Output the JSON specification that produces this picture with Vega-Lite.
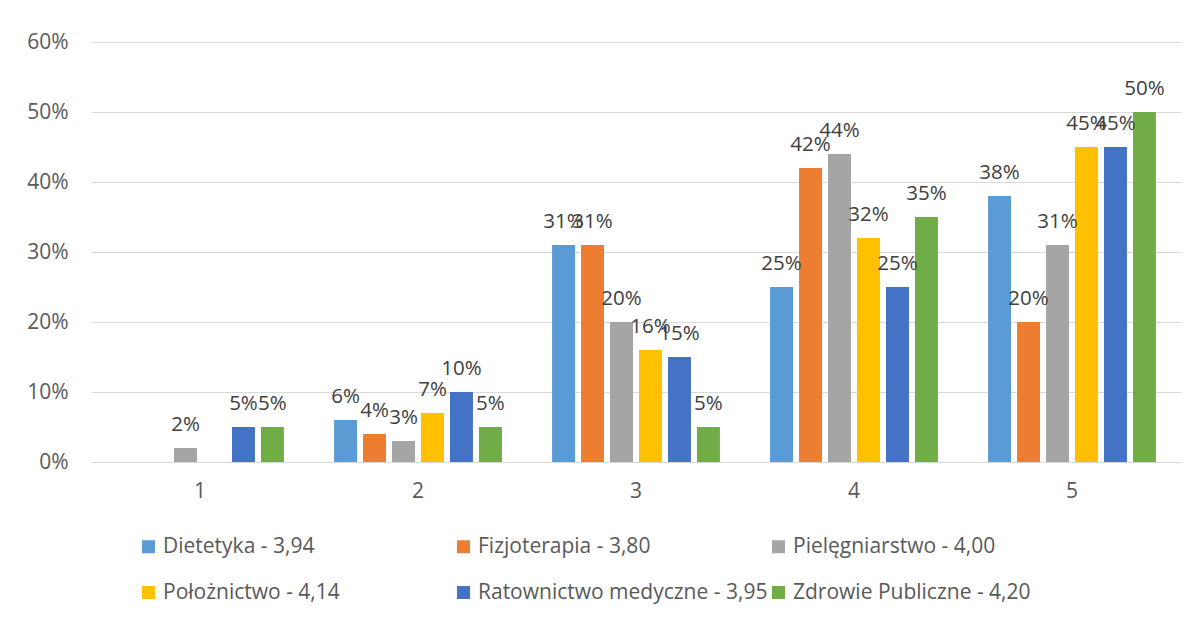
{
  "$schema": "https://vega.github.io/schema/vega-lite/v6.json",
  "width": 1090,
  "height": 420,
  "autosize": "none",
  "padding": {"left": 91, "top": 42, "right": 16, "bottom": 157},
  "background": "white",
  "config": {
    "font": "Open Sans",
    "view": {"stroke": null}
  },
  "data": {
    "values": [
      {"ocena": "1", "kierunek": "Pielęgniarstwo - 4,00", "v": 0.02},
      {"ocena": "1", "kierunek": "Ratownictwo medyczne - 3,95", "v": 0.05},
      {"ocena": "1", "kierunek": "Zdrowie Publiczne - 4,20", "v": 0.05},
      {"ocena": "2", "kierunek": "Dietetyka - 3,94", "v": 0.06},
      {"ocena": "2", "kierunek": "Fizjoterapia - 3,80", "v": 0.04},
      {"ocena": "2", "kierunek": "Pielęgniarstwo - 4,00", "v": 0.03},
      {"ocena": "2", "kierunek": "Położnictwo - 4,14", "v": 0.07},
      {"ocena": "2", "kierunek": "Ratownictwo medyczne - 3,95", "v": 0.10},
      {"ocena": "2", "kierunek": "Zdrowie Publiczne - 4,20", "v": 0.05},
      {"ocena": "3", "kierunek": "Dietetyka - 3,94", "v": 0.31},
      {"ocena": "3", "kierunek": "Fizjoterapia - 3,80", "v": 0.31},
      {"ocena": "3", "kierunek": "Pielęgniarstwo - 4,00", "v": 0.20},
      {"ocena": "3", "kierunek": "Położnictwo - 4,14", "v": 0.16},
      {"ocena": "3", "kierunek": "Ratownictwo medyczne - 3,95", "v": 0.15},
      {"ocena": "3", "kierunek": "Zdrowie Publiczne - 4,20", "v": 0.05},
      {"ocena": "4", "kierunek": "Dietetyka - 3,94", "v": 0.25},
      {"ocena": "4", "kierunek": "Fizjoterapia - 3,80", "v": 0.42},
      {"ocena": "4", "kierunek": "Pielęgniarstwo - 4,00", "v": 0.44},
      {"ocena": "4", "kierunek": "Położnictwo - 4,14", "v": 0.32},
      {"ocena": "4", "kierunek": "Ratownictwo medyczne - 3,95", "v": 0.25},
      {"ocena": "4", "kierunek": "Zdrowie Publiczne - 4,20", "v": 0.35},
      {"ocena": "5", "kierunek": "Dietetyka - 3,94", "v": 0.38},
      {"ocena": "5", "kierunek": "Fizjoterapia - 3,80", "v": 0.20},
      {"ocena": "5", "kierunek": "Pielęgniarstwo - 4,00", "v": 0.31},
      {"ocena": "5", "kierunek": "Położnictwo - 4,14", "v": 0.45},
      {"ocena": "5", "kierunek": "Ratownictwo medyczne - 3,95", "v": 0.45},
      {"ocena": "5", "kierunek": "Zdrowie Publiczne - 4,20", "v": 0.50}
    ]
  },
  "encoding": {
    "x": {
      "field": "ocena",
      "type": "nominal",
      "title": null,
      "scale": {"domain": ["1", "2", "3", "4", "5"], "paddingInner": 0.23, "paddingOuter": 0.115},
      "axis": {
        "labelAngle": 0,
        "ticks": false,
        "domainColor": "#d9d9d9",
        "domainWidth": 1,
        "labelFontSize": 21,
        "labelColor": "#595959",
        "labelPadding": 18,
        "grid": false
      }
    },
    "xOffset": {
      "field": "kierunek",
      "type": "nominal",
      "scale": {
        "domain": ["Dietetyka - 3,94", "Fizjoterapia - 3,80", "Pielęgniarstwo - 4,00", "Położnictwo - 4,14", "Ratownictwo medyczne - 3,95", "Zdrowie Publiczne - 4,20"],
        "paddingInner": 0.207,
        "paddingOuter": 0
      }
    },
    "y": {
      "field": "v",
      "type": "quantitative",
      "title": null,
      "scale": {"domain": [0, 0.6], "nice": false},
      "axis": {
        "values": [0, 0.1, 0.2, 0.3, 0.4, 0.5, 0.6],
        "format": ".0%",
        "domain": false,
        "ticks": false,
        "gridColor": "#d9d9d9",
        "gridWidth": 1,
        "labelFontSize": 21,
        "labelColor": "#595959",
        "labelPadding": 23
      }
    }
  },
  "layer": [
    {
      "mark": {"type": "bar"},
      "encoding": {
        "color": {
          "field": "kierunek",
          "type": "nominal",
          "title": null,
          "scale": {
            "domain": ["Dietetyka - 3,94", "Fizjoterapia - 3,80", "Pielęgniarstwo - 4,00", "Położnictwo - 4,14", "Ratownictwo medyczne - 3,95", "Zdrowie Publiczne - 4,20"],
            "range": ["#5B9BD5", "#ED7D31", "#A5A5A5", "#FFC000", "#4472C4", "#70AD47"]
          },
          "legend": {
            "orient": "none",
            "legendX": 47,
            "legendY": 494,
            "direction": "horizontal",
            "columns": 3,
            "gridAlign": "all",
            "symbolType": "square",
            "symbolSize": 169,
            "symbolStrokeWidth": 0,
            "labelFontSize": 21,
            "labelColor": "#595959",
            "labelOffset": 4,
            "labelLimit": 400,
            "columnPadding": 0,
            "rowPadding": 24
          }
        }
      }
    },
    {
      "mark": {"type": "text", "baseline": "alphabetic", "dy": -17, "fontSize": 20.5, "color": "#404040"},
      "encoding": {
        "text": {"field": "v", "type": "quantitative", "format": ".0%"}
      }
    }
  ]
}
